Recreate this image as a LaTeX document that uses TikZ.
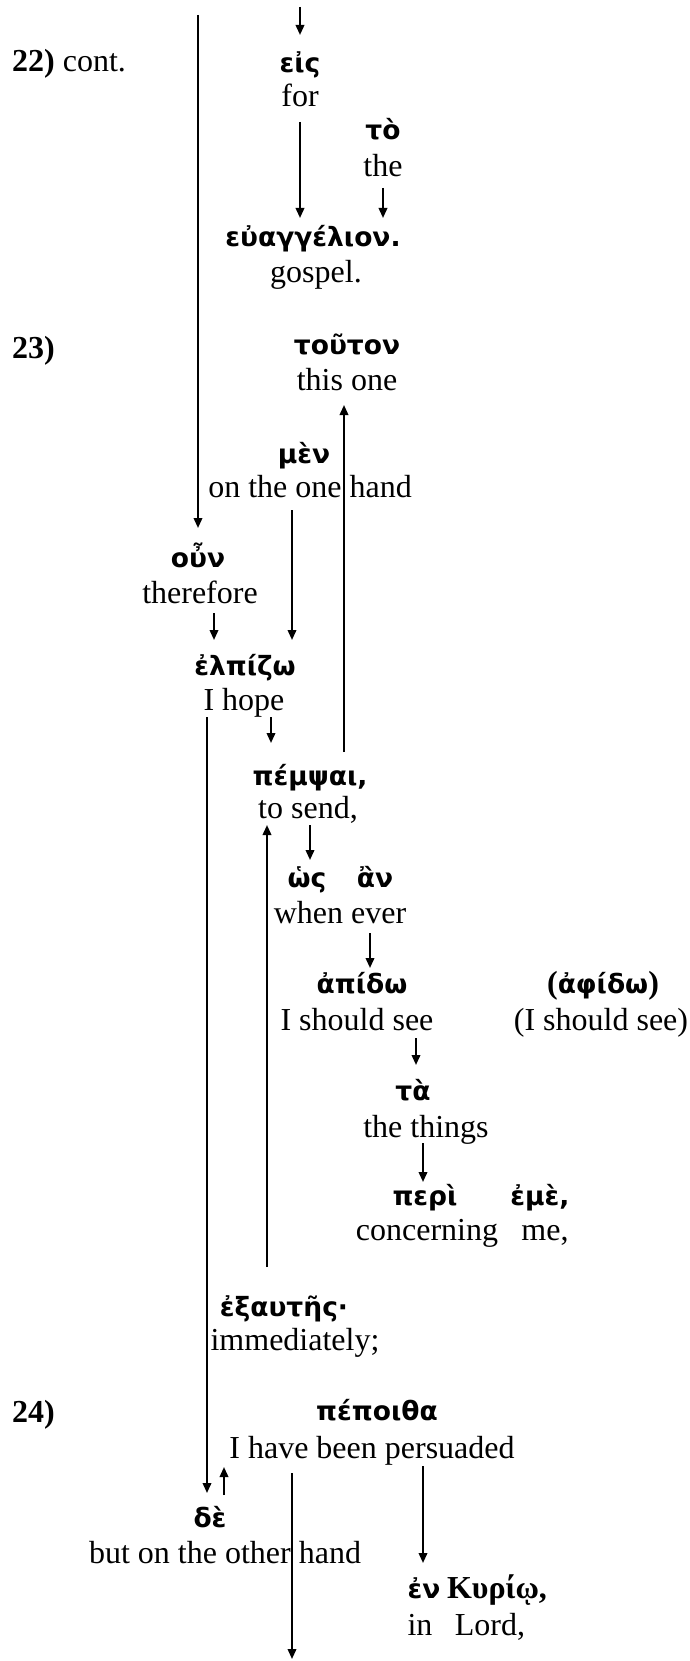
\documentclass[tikz,border=0pt]{standalone}
\usepackage{fontspec}
\setmainfont{Liberation Serif}
\newfontfamily\gkfamily{DejaVu Sans}
\usetikzlibrary{arrows.meta}
\newcommand{\gkfont}{\gkfamily\bfseries\fontsize{26.5}{31}\selectfont}
\newcommand{\enfont}{\fontsize{32}{38}\selectfont}
\tikzset{
  gk/.style={anchor=base, inner sep=0pt, font=\gkfont},
  en/.style={anchor=base, inner sep=0pt, font=\enfont},
  verse/.style={anchor=base west, inner sep=0pt, font=\enfont},
  arr/.style={line width=2pt, -{Triangle[length=10pt,width=8.5pt]}}
}

\begin{document}
\begin{tikzpicture}[x=1pt,y=-1pt]
\useasboundingbox (0,0) rectangle (689,1661);
\node[verse] (v22) at (12,72) {\textbf{22)} cont.};
\node[verse] (v23) at (12,358) {\textbf{23)}};
\node[verse] (v24) at (12,1422) {\textbf{24)}};
\node[gk] (eis) at (300,73) {εἰς};
\node[en] (for) at (300,107) {for};
\node[gk] (to) at (383,140) {τὸ};
\node[en] (the) at (383,177) {the};
\node[gk] (euang) at (313,247) {εὐαγγέλιον.};
\node[en] (gospel) at (316,283) {gospel.};
\node[gk] (touton) at (347,354) {τοῦτον};
\node[en] (thisone) at (347,390) {this one};
\node[gk] (men) at (304,463) {μὲν};
\node[en] (onehand) at (310,497) {on the one hand};
\node[gk] (oun) at (198,567) {οὖν};
\node[en] (therefore) at (200,603) {therefore};
\node[gk] (elpizo) at (245,675) {ἐλπίζω};
\node[en] (hope) at (244,710) {I hope};
\node[gk] (pempsai) at (310,785) {πέμψαι,};
\node[en] (tosend) at (308,818) {to send,};
\node[gk] (hos) at (307,887) {ὡς};
\node[gk] (an) at (375,887) {ἂν};
\node[en] (whenever) at (340,923) {when ever};
\node[gk] (apido) at (362,993) {ἀπίδω};
\node[en] (shouldsee) at (357,1030) {I should see};
\node[gk] (aphido) at (603,993) {{\rmfamily\enfont\bfseries(}ἀφίδω{\rmfamily\enfont\bfseries)}};
\node[en] (altsee) at (601,1030) {(I should see)};
\node[gk] (ta) at (413,1100) {τὰ};
\node[en] (things) at (426,1137) {the things};
\node[gk] (peri) at (425,1205) {περὶ};
\node[gk] (eme) at (540,1205) {ἐμὲ,};
\node[en] (concerning) at (427,1240) {concerning};
\node[en] (me) at (545,1240) {me,};
\node[gk] (exautes) at (284,1316) {ἐξαυτῆς·};
\node[en] (immediately) at (295,1350) {immediately;};
\node[gk] (pepoitha) at (377,1420) {πέποιθα};
\node[en] (persuaded) at (372,1458) {I have been persuaded};
\node[gk] (de) at (210,1527) {δὲ};
\node[en] (otherhand) at (225,1563) {but on the other hand};
\node[gk] (en) at (424,1598) {ἐν};
\node[en] (kyriw) at (497,1598) {\bfseries Κυρίῳ,};
\node[en] (in) at (420,1635) {in};
\node[en] (lord) at (490,1635) {Lord,};
\coordinate (topin) at (300,7);
\coordinate (linetop) at (198,15);
\coordinate (botout) at (292,1659);
\draw[arr] (topin) -- ([yshift=38pt]topin |- eis.base);
\draw[arr] (linetop) -- ([yshift=39pt]linetop |- oun.base);
\draw[arr] ([yshift=-15pt]for.base) -- ([yshift=29pt]for.base |- euang.base);
\draw[arr] ([yshift=-11pt]the.base) -- ([yshift=29pt]the.base |- euang.base);
\draw[arr] ([xshift=34pt,yshift=33pt]pempsai.base) -- ([xshift=-3pt,yshift=-15pt]thisone.base);
\draw[arr] ([xshift=-18pt,yshift=-13pt]onehand.base) -- ([xshift=-18pt,yshift=35pt]onehand.base |- elpizo.base);
\draw[arr] ([xshift=14pt,yshift=-10pt]therefore.base) -- ([xshift=14pt,yshift=35pt]therefore.base |- elpizo.base);
\draw[arr] ([xshift=-37pt,yshift=-7pt]hope.base) -- ([xshift=-37pt,yshift=34pt]hope.base |- de.base);
\draw[arr] ([xshift=27pt,yshift=-7pt]hope.base) -- ([xshift=27pt,yshift=42pt]hope.base |- pempsai.base);
\draw[arr] ([xshift=-17pt,yshift=49pt]exautes.base) -- ([xshift=-41pt,yshift=-7pt]tosend.base);
\draw[arr] ([xshift=2pt,yshift=-7pt]tosend.base) -- ([xshift=2pt,yshift=27pt]tosend.base |- hos.base);
\draw[arr] ([xshift=30pt,yshift=-10pt]whenever.base) -- ([xshift=30pt,yshift=25pt]whenever.base |- apido.base);
\draw[arr] ([xshift=59pt,yshift=-8pt]shouldsee.base) -- ([xshift=59pt,yshift=35pt]shouldsee.base |- ta.base);
\draw[arr] ([xshift=-3pt,yshift=-6pt]things.base) -- ([xshift=-3pt,yshift=23pt]things.base |- peri.base);
\draw[arr] ([xshift=14pt,yshift=32pt]de.base) -- ([xshift=14pt,yshift=-9pt]de.base |- persuaded.base);
\draw[arr] ([yshift=-15pt]persuaded.base -| botout) -- (botout);
\draw[arr] ([xshift=51pt,yshift=-8pt]persuaded.base) -- ([xshift=51pt,yshift=35pt]persuaded.base |- en.base);
\end{tikzpicture}
\end{document}
